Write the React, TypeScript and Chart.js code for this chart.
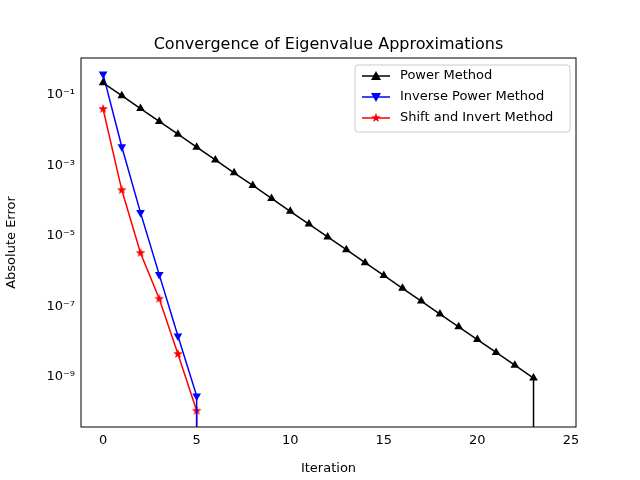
import React, { useEffect, useRef } from "react";
import { Chart, registerables } from "chart.js";

Chart.register(...registerables);

const powerIter = [0,1,2,3,4,5,6,7,8,9,10,11,12,13,14,15,16,17,18,19,20,21,22,23,23];
const powerErr = [2.2e-1,9.5e-2,4.1e-2,1.77e-2,7.7e-3,3.3e-3,1.43e-3,6.2e-4,2.7e-4,1.16e-4,5.0e-5,2.17e-5,9.4e-6,4.06e-6,1.75e-6,7.6e-7,3.28e-7,1.42e-7,6.1e-8,2.65e-8,1.15e-8,4.97e-9,2.15e-9,9.3e-10,1e-20];
const invIter = [0,1,2,3,4,5,5];
const invErr = [0.39,3.4e-3,4.6e-5,8e-7,1.45e-8,2.9e-10,1e-20];
const shiftIter = [0,1,2,3,4,5,5];
const shiftErr = [4e-2,2e-4,3.3e-6,1.65e-7,4.5e-9,1.1e-10,1e-20];
const xTicks = [0,5,10,15,20,25];
const yTicks = [-9,-7,-5,-3,-1];
const sup: Record<string,string> = {"-":"⁻","0":"⁰","1":"¹","2":"²","3":"³","4":"⁴","5":"⁵","6":"⁶","7":"⁷","8":"⁸","9":"⁹"};

const FONT = "'DejaVu Sans', sans-serif";

function starImage(color: string, r: number) {
  const c = document.createElement("canvas");
  c.width = c.height = r * 2 + 2;
  const g = c.getContext("2d")!;
  g.beginPath();
  for (let i = 0; i < 10; i++) {
    const a = -Math.PI / 2 + (i * Math.PI) / 5;
    const rr = i % 2 ? r * 0.42 : r;
    g.lineTo(r + 1 + rr * Math.cos(a), r + 1 + rr * Math.sin(a));
  }
  g.closePath();
  g.fillStyle = color;
  g.fill();
  return c;
}

export default function App() {
  const ref = useRef<HTMLCanvasElement>(null);
  useEffect(() => {
    if (!ref.current) return;
    const star = starImage("red", 5);
    const pts = (xs: number[], ys: number[]) => xs.map((x, i) => ({ x, y: ys[i] }));
    const radii = (n: number, r: number) => Array.from({ length: n }, (_, i) => (i === n - 1 ? 0 : r));
    const series = [
      { label: "Power Method", color: "black", style: "triangle" as any, rot: 0 },
      { label: "Inverse Power Method", color: "blue", style: "triangle" as any, rot: 180 },
      { label: "Shift and Invert Method", color: "red", style: star as any, rot: 0 },
    ];
    const frame = {
      id: "frame",
      afterDraw(chart: any) {
        const { ctx, chartArea: a } = chart;
        ctx.save();
        ctx.strokeStyle = "black";
        ctx.lineWidth = 1;
        ctx.strokeRect(a.left, a.top, a.right - a.left, a.bottom - a.top);
        ctx.fillStyle = "black";
        ctx.font = `16px ${FONT}`;
        ctx.textAlign = "center";
        ctx.textBaseline = "alphabetic";
        ctx.fillText("Convergence of Eigenvalue Approximations", (a.left + a.right) / 2, 49);
        // legend
        const lx = 355, ly = 65, lw = 215, lh = 67;
        ctx.fillStyle = "rgba(255,255,255,0.8)";
        ctx.strokeStyle = "#ccc";
        ctx.beginPath();
        ctx.roundRect(lx, ly, lw, lh, 3);
        ctx.fill();
        ctx.stroke();
        ctx.font = `13px ${FONT}`;
        ctx.textAlign = "left";
        ctx.textBaseline = "middle";
        series.forEach((s, i) => {
          const y = ly + 11 + i * 21;
          ctx.strokeStyle = s.color;
          ctx.lineWidth = 1.5;
          ctx.beginPath();
          ctx.moveTo(lx + 7, y);
          ctx.lineTo(lx + 35, y);
          ctx.stroke();
          ctx.fillStyle = s.color;
          if (s.style === "triangle") {
            ctx.beginPath();
            const d = s.rot ? -1 : 1;
            ctx.moveTo(lx + 21, y - 5 * d);
            ctx.lineTo(lx + 16, y + 4 * d);
            ctx.lineTo(lx + 26, y + 4 * d);
            ctx.closePath();
            ctx.fill();
          } else {
            ctx.drawImage(star, lx + 21 - star.width / 2, y - star.height / 2);
          }
          ctx.fillStyle = "black";
          ctx.fillText(s.label, lx + 45, y);
        });
        ctx.restore();
      },
    };
    const data = [pts(powerIter, powerErr), pts(invIter, invErr), pts(shiftIter, shiftErr)];
    const chart = new Chart(ref.current, {
      type: "line",
      data: {
        datasets: series.map((s, i) => ({
          label: s.label,
          data: data[i],
          borderColor: s.color,
          backgroundColor: s.color,
          borderWidth: 1.5,
          pointStyle: s.style,
          rotation: s.rot,
          pointRadius: radii(data[i].length, 5),
          pointBorderWidth: 0,
          tension: 0,
        })),
      },
      plugins: [frame],
      options: {
        animation: false,
        responsive: false,
        layout: { padding: { top: 58, right: 64, left: 0, bottom: 0 } },
        plugins: { legend: { display: false }, tooltip: { enabled: false } },
        scales: {
          x: {
            type: "linear",
            min: -1.18,
            max: 25.27,
            grid: { display: false, drawTicks: true, tickLength: 4, tickColor: "black" } as any,
            border: { display: false },
            afterBuildTicks: (s: any) => { s.ticks = xTicks.map((v) => ({ value: v })); },
            afterFit: (s: any) => { s.height = 53; },
            ticks: { color: "black", font: { family: FONT, size: 13 }, maxRotation: 0, padding: 2 },
            title: { display: true, text: "Iteration", color: "black", font: { family: FONT, size: 13 }, padding: { top: 2 } },
          },
          y: {
            type: "logarithmic",
            min: Math.pow(10, -10.42),
            max: Math.pow(10, 0.048),
            grid: { display: false, drawTicks: true, tickLength: 4, tickColor: "black" } as any,
            border: { display: false },
            afterBuildTicks: (s: any) => { s.ticks = yTicks.map((v) => ({ value: Math.pow(10, v) })); },
            afterFit: (s: any) => { s.width = 81; },
            ticks: {
              color: "black",
              font: { family: FONT, size: 13 },
              padding: 2,
              callback: (v: any) => "10" + String(Math.round(Math.log10(v))).split("").map((c) => sup[c]).join(""),
            },
            title: { display: true, text: "Absolute Error", color: "black", font: { family: FONT, size: 13 }, padding: { bottom: 2 } },
          },
        },
      } as any,
    });
    return () => chart.destroy();
  }, []);
  return (
    <div style={{ position: "fixed", left: 0, top: 0, width: 640, height: 480, background: "white" }}>
      <canvas ref={ref} width={640} height={480} style={{ width: 640, height: 480 }} />
    </div>
  );
}
